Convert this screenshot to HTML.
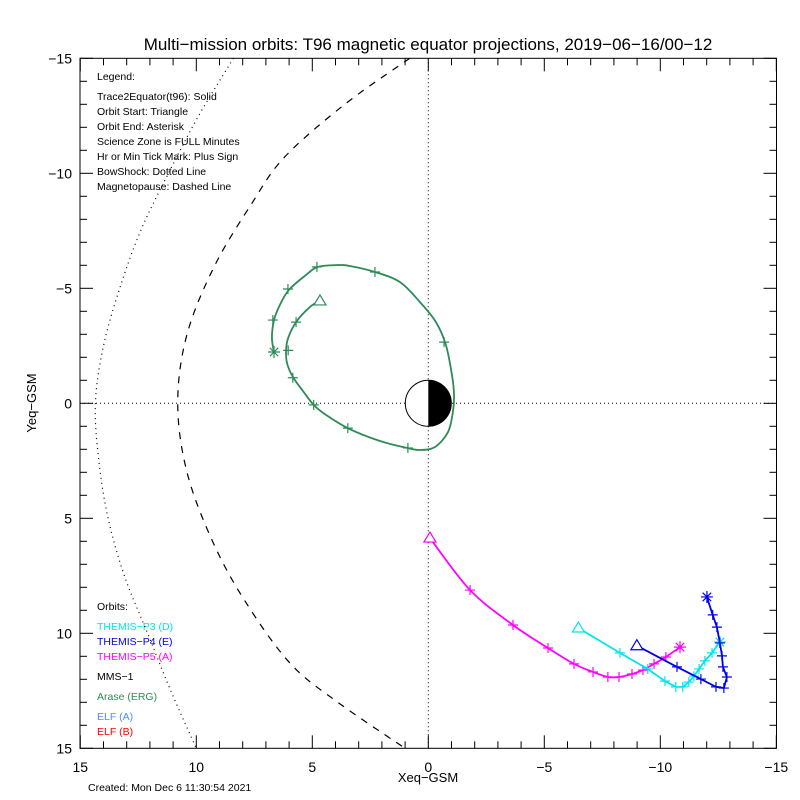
<!DOCTYPE html>
<html><head><meta charset="utf-8"><style>
body{margin:0;background:#fff;}
svg{display:block;font-family:"Liberation Sans",sans-serif;}
</style></head><body>
<svg id="c" width="800" height="800" viewBox="0 0 800 800" xmlns="http://www.w3.org/2000/svg">
<rect width="800" height="800" fill="#fff"/>
<defs><clipPath id="clip"><rect x="80" y="58.3" width="696.5" height="690"/></clipPath></defs>
<text x="428" y="50" font-size="17" text-anchor="middle">Multi−mission orbits: T96 magnetic equator projections, 2019−06−16/00−12</text>
<g font-size="10.5" fill="#000">
<text x="97" y="80">Legend:</text>
<text x="97" y="100">Trace2Equator(t96): Solid</text>
<text x="97" y="115">Orbit Start: Triangle</text>
<text x="97" y="130">Orbit End: Asterisk</text>
<text x="97" y="145">Science Zone is FULL Minutes</text>
<text x="97" y="160">Hr or Min Tick Mark: Plus Sign</text>
<text x="97" y="175">BowShock: Dotted Line</text>
<text x="97" y="190">Magnetopause: Dashed Line</text>
</g>
<g font-size="10.5">
<text x="97" y="610" fill="#000">Orbits:</text>
<text x="97" y="630" fill="#00e5ee">THEMIS−P3 (D)</text>
<text x="97" y="645" fill="#0000ee">THEMIS−P4 (E)</text>
<text x="97" y="660" fill="#ff00ff">THEMIS−P5 (A)</text>
<text x="97" y="680" fill="#000">MMS−1</text>
<text x="97" y="700" fill="#2e8b57">Arase (ERG)</text>
<text x="97" y="720" fill="#4a8cff">ELF (A)</text>
<text x="97" y="735" fill="#ff0000">ELF (B)</text>
</g>
<text x="88" y="791" font-size="10.5">Created: Mon Dec  6 11:30:54 2021</text>
<text x="428" y="782" font-size="13" text-anchor="middle">Xeq−GSM</text>
<text transform="translate(36,403) rotate(-90)" font-size="13" text-anchor="middle">Yeq−GSM</text>
<g id="axes"></g>
<g id="plot" clip-path="url(#clip)"></g>
</svg>
<script>
const xTicks=[15,10,5,0,-5,-10,-15];
const yTicks=[-15,-10,-5,0,5,10,15];
const bowY=[-15,-12.5,-10,-7.5,-5,-2.5,0,2.5,5,7.5,10,12.5,15];
const bowX=[8.4,9.9,11.2,12.4,13.3,14.0,14.35,14.2,13.8,13.1,12.1,11.1,10.0];
const mpY=[-15,-13,-10.7,-8.7,-6,-3,0,3,6,8.6,11.3,13,15];
const mpX=[0.8,3.6,6.2,7.6,9.2,10.4,10.8,10.4,9.3,7.9,5.96,3.9,1.0];
const araseX=[4.67,5.10,5.70,6.04,6.13,6.09,5.84,5.37,4.94,4.46,3.47,2.08,0.92,0.36,-0.29,-0.85,-1.06,-1.11,-1.02,-0.76,-0.33,0.36,1.22,2.30,3.38,3.90,4.76,5.27,6.01,6.40,6.65,6.74,6.65];
const araseY=[-4.45,-4.19,-3.53,-2.84,-2.32,-1.75,-1.15,-0.49,0.07,0.47,1.08,1.64,1.94,2.03,1.90,1.25,0.38,-0.36,-1.23,-2.53,-3.53,-4.40,-5.27,-5.71,-5.97,-6.01,-5.93,-5.58,-4.93,-4.27,-3.62,-2.84,-2.23];
const araseTickX=[6.04,5.70,5.84,4.94,3.47,0.88,-0.68,2.30,4.80,6.05,6.70];
const araseTickY=[-2.3,-3.53,-1.11,0.07,1.08,1.94,-2.66,-5.71,-5.93,-4.97,-3.62];
const p5X=[-0.07,-1.80,-3.65,-5.16,-6.28,-7.10,-7.74,-8.22,-8.78,-9.25,-9.73,-10.24,-10.85];
const p5Y=[5.86,8.12,9.64,10.64,11.33,11.68,11.9,11.9,11.77,11.6,11.33,11.03,10.6];
const p3X=[-6.47,-8.26,-9.46,-10.2,-10.67,-10.97,-11.23,-11.45,-11.67,-11.92,-12.23,-12.57];
const p3Y=[9.77,10.85,11.55,12.08,12.33,12.33,12.12,11.86,11.55,11.2,10.85,10.38];
const p4X=[-8.99,-10.72,-11.75,-12.40,-12.74,-12.87,-12.70,-12.66,-12.57,-12.44,-12.26,-12.01];
const p4Y=[10.54,11.46,11.99,12.33,12.38,11.9,11.46,10.98,10.42,9.73,9.2,8.42];

const NS='http://www.w3.org/2000/svg';
const X0=428.3,Y0=403.3,SX=23.2,SY=23.0;
const sx=v=>X0-v*SX, sy=v=>Y0+v*SY;
function mk(t,a,parent){const e=document.createElementNS(NS,t);for(const k in a)e.setAttribute(k,a[k]);parent.appendChild(e);return e;}
const axes=document.getElementById('axes'), plot=document.getElementById('plot');
const L=80,R=776.5,T=58.3,B=748.3;
const frame=mk('rect',{x:L,y:T,width:R-L,height:B-T,fill:'none',stroke:'#000','stroke-width':1},axes);


for(let v=-15;v<=15;v++){
  const maj=v%5===0, len=maj?13:7;
  const x=sx(v), y=sy(v);
  mk('line',{x1:x,y1:B,x2:x,y2:B-len,stroke:'#000'},axes);
  mk('line',{x1:x,y1:T,x2:x,y2:T+len,stroke:'#000'},axes);
  mk('line',{x1:L,y1:y,x2:L+len,y2:y,stroke:'#000'},axes);
  mk('line',{x1:R,y1:y,x2:R-len,y2:y,stroke:'#000'},axes);
}
xTicks.forEach(v=>{const t=mk('text',{x:sx(v),y:772,'font-size':14,'text-anchor':'middle'},axes);t.textContent=(v<0?'−':'')+Math.abs(v);

});
yTicks.forEach(v=>{const t=mk('text',{x:72,y:sy(v)+5,'font-size':14,'text-anchor':'end'},axes);t.textContent=(v<0?'−':'')+Math.abs(v);

});
// zero lines
mk('line',{x1:sx(0),y1:T,x2:sx(0),y2:B,stroke:'#000','stroke-dasharray':'1 3'},plot);
mk('line',{x1:L,y1:sy(0),x2:R,y2:sy(0),stroke:'#000','stroke-dasharray':'1 3'},plot);
function pathD(xs,ys){return xs.map((v,i)=>(i?'L':'M')+sx(v).toFixed(1)+' '+sy(ys[i]).toFixed(1)).join(' ');}
function smooth(xs,ys){let d='M'+sx(xs[0])+' '+sy(ys[0]);for(let i=0;i<xs.length-1;i++){const p0=[sx(xs[Math.max(i-1,0)]),sy(ys[Math.max(i-1,0)])],p1=[sx(xs[i]),sy(ys[i])],p2=[sx(xs[i+1]),sy(ys[i+1])],p3=[sx(xs[Math.min(i+2,xs.length-1)]),sy(ys[Math.min(i+2,xs.length-1)])];
d+=` C${p1[0]+(p2[0]-p0[0])/6} ${p1[1]+(p2[1]-p0[1])/6} ${p2[0]-(p3[0]-p1[0])/6} ${p2[1]-(p3[1]-p1[1])/6} ${p2[0]} ${p2[1]}`;}return d;}
const bow=mk('path',{d:smooth(bowX,bowY),fill:'none',stroke:'#000','stroke-width':1.2,'stroke-dasharray':'1 4'},plot);


const mp=mk('path',{d:smooth(mpX,mpY),fill:'none',stroke:'#000','stroke-width':1.2,'stroke-dasharray':'7 7'},plot);


// earth
const eg=mk('g',{},plot);


mk('circle',{cx:sx(0),cy:sy(0),r:23,fill:'#fff',stroke:'#000'},eg);
mk('path',{d:`M${sx(0)} ${sy(0)-23} A23 23 0 0 1 ${sx(0)} ${sy(0)+23} Z`,fill:'#000'},eg);
function plus(g,x,y,c){mk('path',{d:`M${x-5} ${y}H${x+5}M${x} ${y-5}V${y+5}`,stroke:c,'stroke-width':1.2},g);}
function star(g,x,y,c){let d='';for(let k=0;k<4;k++){const a=k*Math.PI/4;d+=`M${x-6*Math.cos(a)} ${y-6*Math.sin(a)}L${x+6*Math.cos(a)} ${y+6*Math.sin(a)}`;}mk('path',{d,stroke:c,'stroke-width':1.2},g);}
function tri(g,x,y,c){mk('path',{d:`M${x} ${y-6}L${x+6} ${y+4}L${x-6} ${y+4}Z`,fill:'#fff',stroke:c,'stroke-width':1.2},g);}
function orbit(name,xs,ys,c,tx,ty,sm){
  const g=mk('g',{},plot);
  
  
  mk('path',{d:sm?smooth(xs,ys):pathD(xs,ys),fill:'none',stroke:c,'stroke-width':1.8},g);
  tx.forEach((v,i)=>plus(g,sx(v),sy(ty[i]),c));
  tri(g,sx(xs[0]),sy(ys[0]),c);
  star(g,sx(xs[xs.length-1]),sy(ys[ys.length-1]),c);
}
orbit('arase-orbit',araseX,araseY,'#2e8b57',araseTickX,araseTickY,true);
orbit('themis-p5-orbit',p5X,p5Y,'#ff00ff',p5X.slice(1,-1),p5Y.slice(1,-1),true);
orbit('themis-p3-orbit',p3X,p3Y,'#00e5ee',p3X.slice(1),p3Y.slice(1),false);
orbit('themis-p4-orbit',p4X,p4Y,'#0000ee',p4X.slice(1,-1),p4Y.slice(1,-1),false);
</script>
</body></html>
